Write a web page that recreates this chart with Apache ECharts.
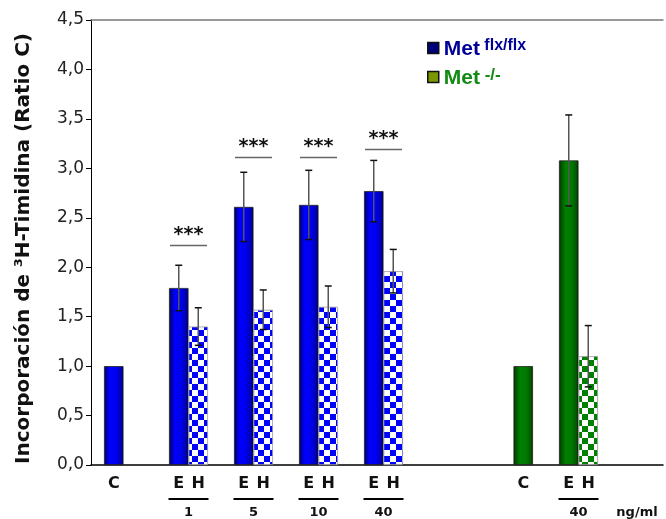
<!DOCTYPE html>
<html><head><meta charset="utf-8">
<script src="https://cdn.jsdelivr.net/npm/echarts@6/dist/echarts.min.js"></script>
<style>html,body{margin:0;padding:0;background:#fff}#c{width:666px;height:519px}</style>
</head><body><div id="c"></div>
<script>
// ---- data ----
const flxGroups = ['C', '1', '5', '10', '40'];          // Met flx/flx groups (ng/ml)
const flxE      = [1.00, 1.79, 2.61, 2.63, 2.77];        // E (solid) bars
const flxEerr   = [0,    0.23, 0.35, 0.35, 0.31];
const flxH      = [null, 1.40, 1.57, 1.60, 1.96];        // H (checkered) bars
const flxHerr   = [0,    0.19, 0.20, 0.21, 0.22];
const koGroups  = ['C', '40'];                            // Met -/- groups
const koE       = [1.00, 3.08];
const koEerr    = [0,    0.46];
const koH       = [null, 1.10];
const koHerr    = [0,    0.31];
const sigHeights = [2.22, 3.11, 3.11, 3.19];             // "***" bars over groups 1,5,10,40
const unitLabel = 'ng/ml';
const yAxisTitle = 'Incorporación de ³H-Timidina (Ratio C)';
const seriesNames = ['Met flx/flx', 'Met -/-'];

// ---- layout (category slots on the x axis) ----
const SLOTS = 88;
const flxSlot = [3, 13, 23, 33, 43];
const koSlot = [66, 73];
const H_SHIFT = 3;
const UNIT_TICK = 84;

const idxCats = n => Array.from({length: n}, (_, i) => String(i));
const barLabels = new Array(SLOTS).fill('');
const groupLabels = new Array(SLOTS + 1).fill('');
const blueSolid = new Array(SLOTS).fill(null);
const blueCheck = new Array(SLOTS).fill(null);
const greenSolid = new Array(SLOTS).fill(null);
const greenCheck = new Array(SLOTS).fill(null);
const errData = [];
const sigData = [];

function place(groups, E, Eerr, H, Herr, slots, solid, check) {
  groups.forEach((g, i) => {
    const s = slots[i];
    solid[s] = E[i];
    barLabels[s] = g === 'C' ? 'C' : 'E';
    if (Eerr[i]) errData.push([s, E[i] - Eerr[i], E[i] + Eerr[i]]);
    if (H[i] != null) {
      check[s + H_SHIFT] = H[i];
      barLabels[s + H_SHIFT] = 'H';
      if (Herr[i]) errData.push([s + H_SHIFT, H[i] - Herr[i], H[i] + Herr[i]]);
      groupLabels[s + 2] = g;
    }
  });
}
place(flxGroups, flxE, flxEerr, flxH, flxHerr, flxSlot, blueSolid, blueCheck);
place(koGroups, koE, koEerr, koH, koHerr, koSlot, greenSolid, greenCheck);
groupLabels[UNIT_TICK] = unitLabel;
flxSlot.slice(1).forEach((s, i) => sigData.push([s + 2, sigHeights[i]]));

function checker(c1) {
  const cv = document.createElement('canvas');
  cv.width = 12; cv.height = 12;
  const ctx = cv.getContext('2d');
  ctx.fillStyle = '#ffffff'; ctx.fillRect(0, 0, 12, 12);
  ctx.fillStyle = c1; ctx.fillRect(0, 0, 6, 6); ctx.fillRect(6, 6, 6, 6);
  return {image: cv, repeat: 'repeat'};
}
const grad = stops => ({type: 'linear', x: 0, y: 0, x2: 1, y2: 0,
  colorStops: stops.map(s => ({offset: s[0], color: s[1]}))});
const blueGrad = grad([[0,'#000040'],[0.1,'#00009a'],[0.3,'#0000ff'],[0.6,'#0000f0'],[0.88,'#0000b0'],[1,'#000050']]);
const greenGrad = grad([[0,'#002000'],[0.1,'#005000'],[0.35,'#008000'],[0.65,'#007800'],[0.88,'#005a00'],[1,'#002800']]);

const chart = echarts.init(document.getElementById('c'), null, {renderer: 'canvas'});
const FONT = 'DejaVu Sans';
const bar = (name, data, color, border) => ({
  type: 'bar', name, data, xAxisIndex: 0, barWidth: 19.5, barGap: '-100%',
  itemStyle: {color, borderColor: border, borderWidth: 0.8}, z: 2
});

chart.setOption({
  animation: false,
  grid: {left: 91, right: 0, top: 20, bottom: 53},
  legend: [
    {data: [{name: seriesNames[0], itemStyle: {color: '#00007a', borderColor: '#111', borderWidth: 1.5}}],
     left: 427, top: 36, padding: 0, itemWidth: 11, itemHeight: 11, icon: 'rect', selectedMode: false,
     formatter: () => '{m|Met}{s| flx/flx}',
     textStyle: {rich: {
       m: {fontFamily: 'Liberation Sans', fontWeight: 'bold', fontSize: 21, color: '#000099', lineHeight: 21, padding: [3,0,0,0]},
       s: {fontFamily: 'Liberation Sans', fontWeight: 'bold', fontSize: 16, color: '#000099', lineHeight: 16, verticalAlign: 'top'}}}},
    {data: [{name: seriesNames[1], itemStyle: {color: '#7a9600', borderColor: '#111', borderWidth: 1.5}}],
     left: 427, top: 65, padding: 0, itemWidth: 11, itemHeight: 11, icon: 'rect', selectedMode: false,
     formatter: () => '{m|Met}{s| -/-}',
     textStyle: {rich: {
       m: {fontFamily: 'Liberation Sans', fontWeight: 'bold', fontSize: 21, color: '#138a13', lineHeight: 21, padding: [3,0,0,0]},
       s: {fontFamily: 'Liberation Sans', fontWeight: 'bold', fontSize: 17, color: '#138a13', lineHeight: 17, verticalAlign: 'top'}}}}
  ],
  xAxis: [
    {type: 'category', data: idxCats(SLOTS), position: 'bottom',
     axisLine: {lineStyle: {color: '#000', width: 1.5}}, axisTick: {show: false},
     axisLabel: {interval: 0, margin: 11, formatter: v => barLabels[+v],
       fontFamily: FONT, fontWeight: 'bold', fontSize: 16, color: '#111'}},
    {type: 'category', data: idxCats(SLOTS + 1), boundaryGap: false, position: 'bottom',
     axisLine: {show: false}, axisTick: {show: false},
     axisLabel: {interval: 0, margin: 33,
       formatter: v => {
         const t = groupLabels[+v];
         if (!t) return '';
         return t === unitLabel ? '{g|}\n{n|' + t + '}' : '{l|}\n{n|' + t + '}';
       },
       rich: {
         l: {width: 40, height: 2, lineHeight: 2, backgroundColor: '#000'},
         g: {width: 1, height: 2, lineHeight: 2},
         n: {fontFamily: FONT, fontWeight: 'bold', fontSize: 13, color: '#111', lineHeight: 14, padding: [11,0,0,0]}
       }}},
    {type: 'category', data: idxCats(SLOTS), position: 'top',
     axisLine: {lineStyle: {color: '#777', width: 1.5}}, axisTick: {show: false}, axisLabel: {show: false}}
  ],
  yAxis: {
    type: 'value', min: 0, max: 4.5, interval: 0.5,
    name: yAxisTitle, nameLocation: 'middle', nameGap: 57,
    nameTextStyle: {fontFamily: FONT, fontWeight: 'bold', fontSize: 20, color: '#111', padding: [0, 12, 0, 0]},
    axisLine: {show: true, lineStyle: {color: '#000', width: 1}},
    axisTick: {show: true, length: 5, lineStyle: {color: '#000'}},
    splitLine: {show: false},
    axisLabel: {margin: 7, fontFamily: FONT, fontSize: 17, color: '#222',
      formatter: v => v.toFixed(1).replace('.', ',')}
  },
  series: [
    bar(seriesNames[0], blueSolid, blueGrad, '#222'),
    bar('flxH', blueCheck, checker('#0000ff'), '#999'),
    bar(seriesNames[1], greenSolid, greenGrad, '#222'),
    bar('koH', greenCheck, checker('#008000'), '#999'),
    {type: 'custom', xAxisIndex: 0, data: errData, z: 5, encode: {x: 0, y: [1, 2]},
     renderItem: (params, api) => {
       const x = api.value(0);
       const lo = api.coord([x, api.value(1)]);
       const hi = api.coord([x, api.value(2)]);
       const c = 3.5;
       return {type: 'group', children: [
         {type: 'line', shape: {x1: hi[0], y1: hi[1], x2: lo[0], y2: lo[1]}, style: {stroke: '#555', lineWidth: 1.5}},
         {type: 'line', shape: {x1: hi[0]-c, y1: hi[1], x2: hi[0]+c, y2: hi[1]}, style: {stroke: '#111', lineWidth: 1.5}},
         {type: 'line', shape: {x1: lo[0]-c, y1: lo[1], x2: lo[0]+c, y2: lo[1]}, style: {stroke: '#111', lineWidth: 1.5}}
       ]};
     }},
    {type: 'custom', xAxisIndex: 1, data: sigData, z: 5, encode: {x: 0, y: 1},
     renderItem: (params, api) => {
       const p = api.coord([api.value(0), api.value(1)]);
       return {type: 'group', children: [
         {type: 'line', shape: {x1: p[0]-18.5, y1: p[1], x2: p[0]+18.5, y2: p[1]}, style: {stroke: '#666', lineWidth: 1.5}},
         {type: 'text', x: p[0], y: p[1] - 1, style: {text: '***', fontFamily: FONT, fontWeight: 'bold', fontSize: 19,
           fill: '#111', align: 'center', verticalAlign: 'bottom'}}
       ]};
     }}
  ]
});
</script></body></html>
